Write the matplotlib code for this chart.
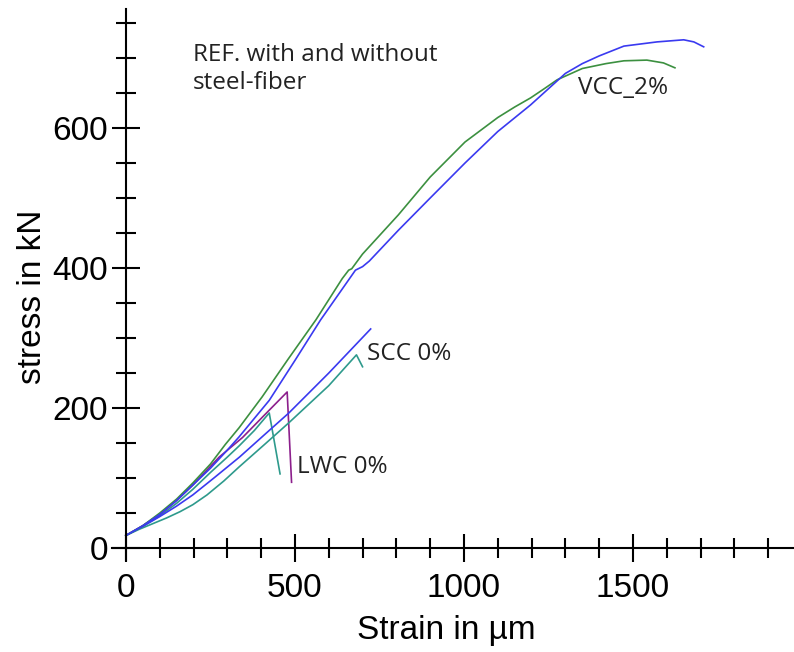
import matplotlib
matplotlib.use("Agg")
import matplotlib.pyplot as plt

# strain (um) / stress (kN)
vcc_green_x = [0, 50, 100, 150, 198, 250, 294, 335, 403, 480, 562, 640, 659, 668, 700, 806, 900, 1003, 1100, 1150, 1197, 1240, 1276, 1350, 1420, 1473, 1541, 1590, 1624]
vcc_green_y = [18, 32, 50, 70, 93, 120, 148, 172, 216, 270, 326, 385, 397, 399, 420, 476, 530, 580, 615, 630, 643, 657, 669, 685, 692, 696, 697, 693, 686]

vcc_blue_x = [0, 50, 100, 150, 198, 250, 300, 335, 424, 500, 576, 679, 700, 720, 806, 900, 1003, 1100, 1197, 1300, 1350, 1400, 1473, 1571, 1650, 1680, 1709]
vcc_blue_y = [18, 32, 48, 68, 90, 114, 140, 159, 211, 268, 326, 397, 402, 410, 454, 500, 550, 595, 633, 678, 692, 703, 717, 723, 726, 723, 716]

scc_blue_x = [0, 50, 100, 150, 198, 260, 336, 410, 482, 600, 724]
scc_blue_y = [18, 31, 45, 60, 76, 100, 130, 162, 193, 250, 313]

scc_teal_x = [0, 40, 80, 120, 160, 198, 240, 290, 335, 410, 482, 600, 682, 700]
scc_teal_y = [18, 27, 35, 43, 52, 62, 76, 96, 116, 148, 179, 232, 276, 259]

lwc_purple_x = [0, 50, 100, 150, 198, 276, 345, 424, 477, 490]
lwc_purple_y = [18, 32, 48, 68, 90, 130, 158, 197, 223, 94]

lwc_teal_x = [0, 50, 100, 150, 198, 250, 300, 335, 380, 424, 456]
lwc_teal_y = [18, 31, 46, 64, 84, 108, 130, 146, 168, 193, 106]

fig = plt.figure(figsize=(7.94, 6.52), dpi=100)
ax = fig.add_axes([0.1411, 0.1411, 0.8584, 0.8451])

green = "#3c9040"
blue = "#3a3af0"
teal = "#2e9a8c"
purple = "#8c1f8c"
lw = 1.2

ax.plot(lwc_teal_x, lwc_teal_y, color=teal, lw=lw)
ax.plot(lwc_purple_x, lwc_purple_y, color=purple, lw=lw)
ax.plot(scc_teal_x, scc_teal_y, color=teal, lw=lw)
ax.plot(scc_blue_x, scc_blue_y, color=blue, lw=lw)
ax.plot(vcc_green_x, vcc_green_y, color=green, lw=lw)
ax.plot(vcc_blue_x, vcc_blue_y, color=blue, lw=lw)

ax.set_xlim(-41, 1975)
ax.set_ylim(-17, 770)

# axes cross at the origin, lines run a bit past it
ax.spines['left'].set_position(('data', 0))
ax.spines['bottom'].set_position(('data', 0))
ax.spines['top'].set_visible(False)
ax.spines['right'].set_visible(False)
for s in ['left', 'bottom']:
    ax.spines[s].set_linewidth(1.5)

ax.set_xticks([0, 500, 1000, 1500])
ax.set_yticks([0, 200, 400, 600])
ax.set_xticks([t for t in range(100, 2000, 100) if t % 500], minor=True)
ax.set_yticks([t for t in range(50, 800, 50) if t % 200], minor=True)

ax.tick_params(which='major', direction='inout', length=20, width=1.5)
ax.tick_params(which='minor', direction='inout', length=14, width=1.5)
ax.tick_params(axis='x', which='major', pad=8)
ax.tick_params(axis='y', which='major', pad=3)
for lab in ax.get_xticklabels() + ax.get_yticklabels():
    lab.set_fontfamily('Liberation Sans')
    lab.set_fontsize(24)

fig.text(446 / 794, 1 - 630 / 652, "Strain in \u00b5m", ha='center', va='center',
         fontsize=24, family='Liberation Sans')
fig.text(33 / 794, 1 - 297 / 652, "stress in kN", ha='center', va='center',
         rotation=90, fontsize=24, family='Liberation Sans')

note = dict(family='Open Sans', fontsize=17.5, color='#222222')
ax.text(198, 722, "REF. with and without\nsteel-fiber", ha='left', va='top',
        linespacing=1.25, **note)
ax.text(1337, 657, "VCC_2%", ha='left', va='center', **note)
ax.text(713, 277, "SCC 0%", ha='left', va='center', **note)
ax.text(506, 116, "LWC 0%", ha='left', va='center', **note)

fig.savefig("out.png", dpi=100)
